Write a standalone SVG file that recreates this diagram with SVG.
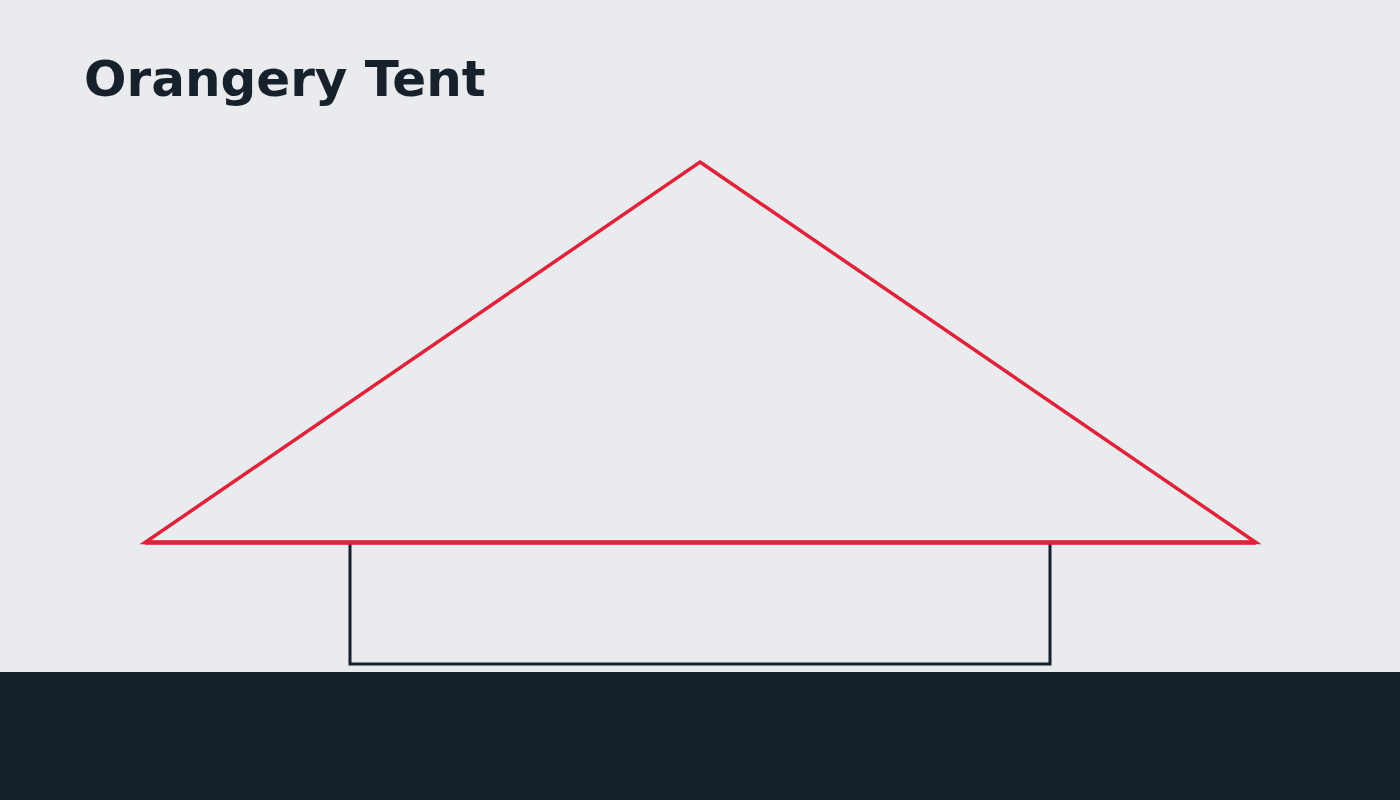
<svg xmlns="http://www.w3.org/2000/svg" width="1400" height="800" viewBox="0 0 1400 800">
  <style>
    .title { font-family: "DejaVu Sans", "Liberation Sans", sans-serif; font-weight: bold; font-size: 50px; fill: #17212b; }
    .frame { fill: none; stroke: #17212b; stroke-width: 3; }
    .canopy { fill: none; stroke: #e0223a; stroke-width: 3.5; stroke-linejoin: miter; }
  </style>
  <rect x="0" y="0" width="1400" height="800" fill="#e9ebee"/>
  <text class="title" x="84" y="96">Orangery Tent</text>
  <g id="ground">
    <rect x="0" y="672" width="1400" height="128" fill="#17212b"/>
  </g>
  <g id="tent-body">
    <polyline class="frame" points="350,542 350,664 1050,664 1050,542"/>
  </g>
  <g id="tent-roof">
    <polygon class="canopy" points="700,162 1256,542.5 145,542.5"/>
    <line x1="145" y1="542.5" x2="1256" y2="542.5" stroke="#e0223a" stroke-width="4.5"/>
  </g>
</svg>
